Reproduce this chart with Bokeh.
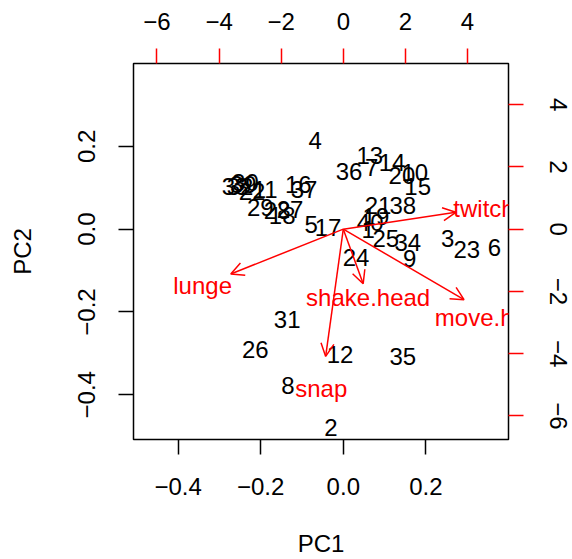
from bokeh.plotting import figure
from bokeh.models import ColumnDataSource, Range1d, LinearAxis, FixedTicker, Arrow, OpenHead
from bokeh.core.properties import value
from bokeh.embed import file_html
from bokeh.resources import INLINE

# ---- data ----
labels = [str(i) for i in range(1, 41)]
pc1 = [0.060, -0.030, 0.253, -0.068, -0.078, 0.366, 0.069, -0.134, 0.161, 0.173,
       -0.189, -0.008, 0.064, 0.118, 0.180, -0.109, -0.037, -0.148, 0.079, 0.142,
       0.084, -0.221, 0.299, 0.031, 0.103, -0.213, -0.129, -0.160, -0.201, -0.237,
       -0.136, -0.250, -0.262, 0.156, 0.144, 0.014, -0.095, 0.144, -0.242, 0.065]
pc2 = [-0.002, -0.480, -0.022, 0.213, 0.010, -0.044, 0.148, -0.378, -0.070, 0.136,
       0.095, -0.303, 0.177, 0.160, 0.102, 0.107, 0.005, 0.032, 0.031, 0.130,
       0.058, 0.092, -0.048, -0.068, -0.022, -0.291, 0.048, 0.046, 0.053, 0.112,
       -0.218, 0.102, 0.102, -0.032, -0.308, 0.138, 0.095, 0.056, 0.109, 0.017]

var_names = ["lunge", "twitch", "snap", "shake.head", "move.head"]
var_x = [-4.53, 4.53, -0.71, 0.80, 4.86]
var_y = [-1.80, 0.675, -5.11, -2.19, -2.83]
arrow_frac = 0.8

main_ticks = [-0.4, -0.2, 0.0, 0.2]
main_tick_labels = ["\u22120.4", "\u22120.2", "0.0", "0.2"]
sec_ticks = [-6, -4, -2, 0, 2, 4]
sec_tick_labels = ["\u22126", "\u22124", "\u22122", "0", "2", "4"]

lim = (-0.508, 0.400)
sec_scale = 13.3

FONT = "Liberation Sans"

p = figure(width=572, height=559, x_range=Range1d(*lim), y_range=Range1d(*lim),
           output_backend="svg", toolbar_location=None,
           min_border_left=133, min_border_right=64, min_border_top=63, min_border_bottom=120,
           x_axis_label="PC1", y_axis_label="PC2")
p.extra_x_ranges = {"sec": Range1d(lim[0] * sec_scale, lim[1] * sec_scale)}
p.extra_y_ranges = {"sec": Range1d(lim[0] * sec_scale, lim[1] * sec_scale)}
p.xgrid.grid_line_color = None
p.ygrid.grid_line_color = None
p.outline_line_color = "black"
p.outline_line_width = 1.5
p.background_fill_color = "white"
p.border_fill_color = "white"


def style_axis(ax, ticks, tick_labels, color, standoff):
    ax.ticker = FixedTicker(ticks=ticks)
    ax.major_label_overrides = {t: l for t, l in zip(ticks, tick_labels)}
    ax.axis_line_color = None
    ax.major_tick_line_color = color
    ax.major_tick_line_width = 1.5
    ax.major_tick_out = 15
    ax.major_tick_in = 0
    ax.minor_tick_line_color = None
    ax.major_label_text_font = FONT
    ax.major_label_text_font_size = "24px"
    ax.major_label_text_color = "black"
    ax.major_label_standoff = standoff
    ax.axis_label_text_font = FONT
    ax.axis_label_text_font_size = "24px"
    ax.axis_label_text_font_style = "normal"
    ax.axis_label_text_color = "black"


xa = p.xaxis[0]
ya = p.yaxis[0]
style_axis(xa, main_ticks, main_tick_labels, "black", 23)
xa.axis_label_standoff = 32
style_axis(ya, main_ticks, main_tick_labels, "black", 23)
ya.major_label_orientation = "vertical"
ya.axis_label_standoff = 40

top = LinearAxis(x_range_name="sec")
style_axis(top, sec_ticks, sec_tick_labels, "red", 19)
p.add_layout(top, "above")
right = LinearAxis(y_range_name="sec")
style_axis(right, sec_ticks, sec_tick_labels, "red", 26)
right.major_label_orientation = "vertical"
p.add_layout(right, "right")

# sample labels
src = ColumnDataSource(dict(x=pc1, y=pc2, t=labels))
p.text(x="x", y="y", text="t", source=src, text_align="center", text_baseline="middle",
       text_font=value(FONT), text_font_size="24px", text_color="black")

# variable arrows and labels
vsrc = ColumnDataSource(dict(x0=[0.0] * len(var_x), y0=[0.0] * len(var_y),
                             x1=[v * arrow_frac for v in var_x],
                             y1=[v * arrow_frac for v in var_y],
                             lx=var_x, ly=var_y, t=var_names))
p.add_layout(Arrow(end=OpenHead(size=13, line_color="red", line_width=1.5),
                   x_start="x0", y_start="y0", x_end="x1", y_end="y1",
                   line_color="red", line_width=1.5, source=vsrc,
                   x_range_name="sec", y_range_name="sec"))
p.text(x="lx", y="ly", text="t", source=vsrc, x_range_name="sec", y_range_name="sec",
       text_align="center", text_baseline="middle",
       text_font=value(FONT), text_font_size="24px", text_color="red")

open("out.html", "w").write(file_html(p, INLINE))
